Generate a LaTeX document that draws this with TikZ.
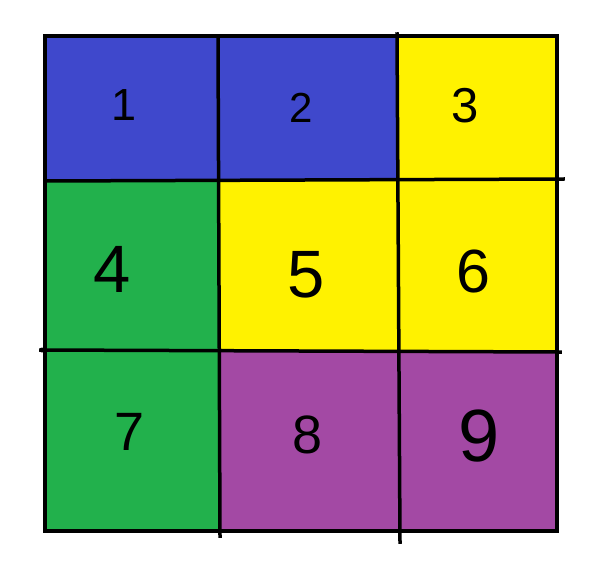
\documentclass[tikz,border=0pt]{standalone}
\usepackage{fontspec}
\setmainfont{Liberation Sans}
\definecolor{pblue}{HTML}{3F48CC}
\definecolor{pyellow}{HTML}{FFF200}
\definecolor{pgreen}{HTML}{22B14C}
\definecolor{ppurple}{HTML}{A349A4}
\tikzset{
  gridline/.style={line width=3.5pt, black, line cap=rect},
  digit/.style={anchor=base, inner sep=0pt, text=black}
}
\begin{document}
\begin{tikzpicture}[x=1pt, y=-1pt]
\useasboundingbox (0,0) rectangle (604,562);
\fill[white] (0,0) rectangle (604,562);
% fills
\fill[pblue] (45,36) rectangle (398,181);
\fill[pyellow] (398,36) rectangle (557,180);
\fill[pyellow] (219,180) rectangle (557,351);
\fill[pgreen] (45,180) rectangle (219,531);
\fill[ppurple] (219,351) rectangle (557,531);
% grid lines
\coordinate (tl) at (45,36);
\coordinate (tr) at (557,36);
\coordinate (bl) at (45,531);
\coordinate (br) at (557,531);
\coordinate (v1a) at (218,37);
\coordinate (v1b) at (220,536);
\coordinate (v2a) at (397,34);
\coordinate (v2b) at (400,542);
\coordinate (h1a) at (45,181);
\coordinate (h1b) at (563,179);
\coordinate (h2a) at (41,350);
\coordinate (h2b) at (560,352);
\draw[gridline] (tl) -- (tr) -- (br) -- (bl) -- cycle;
\draw[gridline] (v1a) -- (v1b);
\draw[gridline] (v2a) -- (v2b);
\draw[gridline] (h1a) -- (h1b);
\draw[gridline] (h2a) -- (h2b);
\fill (42,350) ellipse (3pt and 2.5pt);
% digits
\node[digit, font=\fontsize{45}{45}\selectfont] (d1) at (124,120) {1};
\node[digit, font=\fontsize{42}{42}\selectfont] (d2) at (301,122) {2};
\node[digit, font=\fontsize{49}{49}\selectfont] (d3) at (465,122) {3};
\node[digit, font=\fontsize{67}{67}\selectfont] (d4) at (112,292) {4};
\node[digit, font=\fontsize{67}{67}\selectfont] (d5) at (306,297) {5};
\node[digit, font=\fontsize{61}{61}\selectfont] (d6) at (473,292) {6};
\node[digit, font=\fontsize{54}{54}\selectfont] (d7) at (130,450) {7};
\node[digit, font=\fontsize{54}{54}\selectfont] (d8) at (308,453) {8};
\node[digit, font=\fontsize{74}{74}\selectfont] (d9) at (479,461) {9};
\end{tikzpicture}
\end{document}
